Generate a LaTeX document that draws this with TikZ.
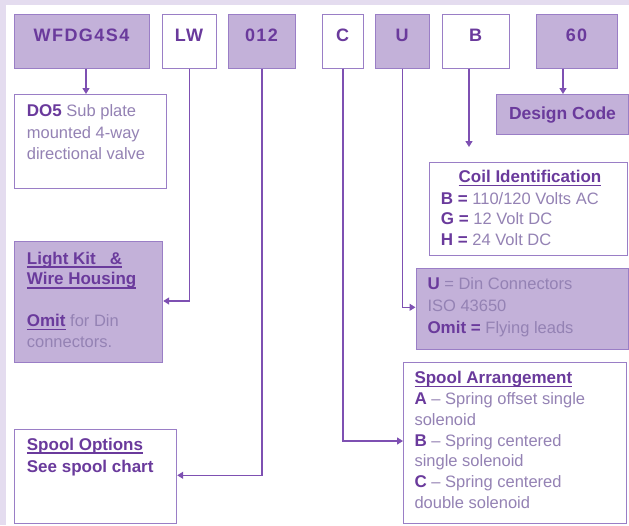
\documentclass[tikz,border=0pt]{standalone}
\usepackage{fontspec}
\setmainfont{Liberation Sans}
\usetikzlibrary{arrows.meta}
\definecolor{fillP}{HTML}{C3B1D9}
\definecolor{borderP}{HTML}{9A7EC6}
\definecolor{lineP}{HTML}{7E50B2}
\definecolor{textB}{HTML}{6A3A9C}
\definecolor{textR}{HTML}{9482B4}
\definecolor{bgP}{HTML}{E4DCEF}
\newcommand\myul[1]{\setbox0\hbox{#1}\rlap{\vrule height -2.4pt depth 3.8pt width \wd0}\box0}
\newcommand\vl[2]{\vtop{\baselineskip=#1pt\lineskiplimit=-30pt\lineskip=0pt #2}}
\newcommand\bd[1]{{\fontsize{17}{21}\selectfont\bfseries\color{textB}#1}}
\begin{document}
\begin{tikzpicture}[x=1pt,y=-1pt,
  font=\fontsize{16.5}{21}\selectfont,
  boxbase/.style={draw=borderP, line width=1.2pt, inner sep=0pt, anchor=north west},
  pbox/.style={boxbase, fill=fillP},
  wbox/.style={boxbase, fill=white},
  code/.style={anchor=base, inner sep=0pt, text=textB,
    font=\fontsize{18}{20}\selectfont\bfseries\addfontfeatures{LetterSpace=8}},
  txt/.style={anchor=base west, inner sep=0pt, text=textR},
  conn/.style={draw=lineP, line width=1.3pt, -{Triangle[length=6pt,width=7pt]}}
]
\useasboundingbox (0,0) rectangle (629,525);
\fill[bgP] (0,0) rectangle (629,525);
\fill[white] (5.5,5) rectangle (629,525);

% code boxes
\node[pbox, minimum width=135pt, minimum height=54pt] (wf) at (14,13.5) {};
\node[wbox, minimum width=54pt, minimum height=54pt] (lw) at (162,13.5) {};
\node[pbox, minimum width=67pt, minimum height=54pt] (n012) at (228,13.5) {};
\node[wbox, minimum width=41pt, minimum height=54pt] (c) at (322,13.5) {};
\node[pbox, minimum width=54pt, minimum height=54pt] (u) at (375,13.5) {};
\node[wbox, minimum width=67pt, minimum height=54pt] (b) at (442,13.5) {};
\node[pbox, minimum width=81pt, minimum height=54pt] (s60) at (536,13.5) {};

\node[code] (wft) at (81.5,41.7) {WFDG4S4};
\node[code] (lwt) at (189,41.7) {LW};
\node[code] (n012t) at (261.5,41.7) {012};
\node[code] (ct) at (342.5,41.7) {C};
\node[code] (ut) at (402,41.7) {U};
\node[code] (bt) at (475.5,41.7) {B};
\node[code] (s60t) at (576.5,41.7) {60};

% description boxes
\node[wbox, minimum width=152pt, minimum height=94pt] (do5) at (14,94) {};
\node[pbox, minimum width=132pt, minimum height=40pt] (dc) at (496,94) {};
\node[wbox, minimum width=197.5pt, minimum height=93.5pt] (coil) at (429,161.5) {};
\node[pbox, minimum width=212.5pt, minimum height=81pt] (ub) at (415.5,267.5) {};
\node[pbox, minimum width=148pt, minimum height=120.5pt] (lk) at (14,241) {};
\node[wbox, minimum width=222.5pt, minimum height=160.5pt] (sa) at (403,362) {};
\node[wbox, minimum width=162pt, minimum height=93.5pt] (so) at (14,429) {};

% texts
\node[txt] (do5t) at (26.7,116.7) {\vl{21.3}{\hbox{\bd{DO5} Sub plate}\hbox{mounted 4-way}\hbox{directional valve}}};
\node[anchor=base, inner sep=0pt, text=textB, font=\fontsize{17.5}{21}\selectfont\bfseries] (dct) at (562.5,119) {Design Code};
\node[anchor=base, inner sep=0pt, text=textB] (coilh) at (530,182.3) {\bd{\myul{Coil Identification}}};
\node[txt] (coilt) at (440.7,204) {\vl{20.5}{\hbox{\bd{B =} 110/120 Volts AC}\hbox{\bd{G =} 12 Volt DC}\hbox{\bd{H =} 24 Volt DC}}};
\node[txt] (ubt) at (427.3,289.3) {\vl{22}{\hbox{\bd{U} = Din Connectors}\hbox{ISO 43650}\hbox{\bd{Omit =} Flying leads}}};
\node[txt] (lkt) at (26.7,264) {\vl{20.8}{\hbox{\bd{\myul{Light Kit\ \ \ \&}}}\hbox{\bd{\myul{Wire Housing}}}\hbox{}\hbox{\bd{\myul{Omit}} for Din}\hbox{connectors.}}};
\node[txt] (sot) at (26.7,450) {\vl{22.5}{\hbox{\bd{\myul{Spool Options}}}\hbox{\bd{See spool chart}}}};
\node[txt] (sat) at (414.3,383.3) {\vl{20.9}{\hbox{\bd{\myul{Spool Arrangement}}}\hbox{\bd{A} -- Spring offset single}\hbox{solenoid}\hbox{\bd{B} -- Spring centered}\hbox{single solenoid}\hbox{\bd{C} -- Spring centered}\hbox{double solenoid}}};

% connectors
\coordinate (bend) at (469,147);
\draw[conn] (wf.south -| 86,0) -- (do5.north -| 86,0);
\draw[conn] (s60.south -| 563,0) -- (dc.north -| 563,0);
\draw[conn] (b.south -| 469,0) -- (bend);
\draw[conn] (lw.south) |- (lk.east |- 0,301);
\draw[conn] (n012.south) |- (so.east |- 0,475.3);
\draw[conn] (c.south) |- (sa.west |- 0,441);
\draw[conn] (u.south) |- (ub.west |- 0,307.3);
\end{tikzpicture}
\end{document}
